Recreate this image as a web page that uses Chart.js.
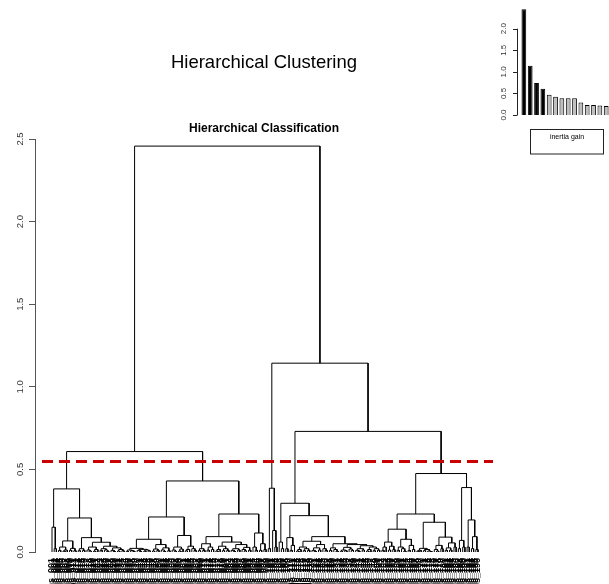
<!DOCTYPE html>
<html>
<head>
<meta charset="utf-8">
<title>Hierarchical Clustering</title>
<script src="https://cdn.jsdelivr.net/npm/chart.js@4.4.1/dist/chart.umd.min.js"></script>
<style>
  html, body { margin: 0; padding: 0; background: #fff; overflow: hidden; }
  #wrap { position: relative; width: 609px; height: 584px; overflow: hidden; }
  #tree { position: absolute; left: 0; top: 0; }
  #gain { position: absolute; left: 480px; top: 0; }
</style>
</head>
<body>
<div id="wrap">
  <canvas id="tree" width="609" height="584"></canvas>
  <canvas id="gain" width="140" height="160"></canvas>
</div>
<script>
// merge heights; a node is [height, left, right], a leaf is 0
var groupA = [0.382,
	[0.15, 0, [0.02, 0, 0]],
	[0.206,
		[0.067, [0.03, [0.01, 0, 0], [0.012, [0.005, 0, 0], 0]], [0.022, [0.01, 0, 0], [0.008, 0, 0]]],
		[0.087,
			[0.02, [0.008, 0, 0], [0.01, 0, 0]],
			[0.059,
				[0.03, [0.012, 0, [0.006, 0, 0]], [0.015, [0.005, 0, 0], 0]],
				[0.035, [0.02, [0.01, 0, 0], [0.012, 0, [0.004, 0, 0]]], [0.025, [0.01, 0, [0.003, 0, 0]], [0.015, [0.006, 0, 0], [0.008, 0, 0]]]]]]]];

var groupB = [0.43,
	[0.212,
		[0.077,
			[0.022, [0.012, [0.004, 0, 0], [0.008, 0, [0.003, 0, 0]]], [0.016, [0.01, 0, [0.004, 0, 0]], [0.012, [0.005, 0, 0], [0.007, 0, 0]]]],
			[0.045, [0.018, [0.006, 0, 0], [0.01, 0, 0]], [0.025, [0.012, 0, [0.004, 0, 0]], [0.008, 0, 0]]]],
		[0.1,
			[0.03, [0.012, 0, [0.005, 0, 0]], [0.018, [0.006, 0, 0], 0]],
			[0.035, [0.015, [0.007, 0, 0], 0], [0.02, 0, [0.009, 0, 0]]]]],
	[0.23,
		[0.093,
			[0.05, [0.02, [0.008, 0, 0], [0.01, 0, 0]], [0.03, [0.012, 0, 0], [0.015, 0, 0]]],
			[0.06, [0.035, [0.015, [0.006, 0, 0], 0], [0.02, [0.008, 0, 0], [0.01, 0, 0]]],
				[0.045, [0.02, [0.01, 0, [0.004, 0, 0]], [0.012, 0, 0]], [0.028, [0.015, 0, [0.007, 0, 0]], [0.011, 0, 0]]]]],
		[0.115, [0.03, 0, [0.01, 0, 0]], [0.05, [0.01, 0, 0], [0.015, 0, 0]]]]];

var groupC = [0.386, [0.02, 0, 0], [0.13, 0, [0.03, 0, 0]]];

var groupD1 = [0.295,
	[0.06, 0, [0.02, 0, 0]],
	[0.22,
		[0.087, [0.02, 0, 0], [0.04, [0.01, 0, 0], 0]],
		[0.093,
			[0.065, [0.03, [0.015, [0.006, 0, 0], 0], [0.02, [0.008, 0, 0], [0.01, 0, 0]]],
				[0.045, [0.025, [0.01, 0, [0.004, 0, 0]], [0.012, 0, 0]], [0.02, 0, [0.009, 0, 0]]]],
			[0.05,
				[0.025, [0.01, 0, 0], [0.015, 0, [0.005, 0, 0]]],
				[0.045, [0.028, [0.012, [0.005, 0, 0], [0.008, 0, 0]], [0.018, 0, [0.01, 0, 0]]],
					[0.038, [0.02, [0.01, 0, [0.004, 0, 0]], [0.012, 0, 0]], [0.03, [0.015, [0.006, 0, 0], 0], [0.02, [0.008, 0, 0], [0.011, 0, 0]]]]]]]]];

var groupD2 = [0.475,
	[0.23,
		[0.138,
			[0.06, [0.03, [0.01, 0, 0], 0], [0.035, [0.012, 0, 0], [0.015, 0, 0]]],
			[0.077, [0.03, [0.01, 0, 0], [0.02, 0, [0.005, 0, 0]]], [0.04, [0.01, 0, 0], [0.015, 0, 0]]]],
		[0.18,
			[0.022, [0.01, [0.005, 0, 0], 0], [0.015, [0.008, 0, 0], [0.006, 0, [0.003, 0, 0]]]],
			[0.09, [0.04, [0.015, 0, [0.006, 0, 0]], [0.02, 0, 0]], [0.055, [0.025, [0.01, 0, 0], [0.012, 0, 0]], [0.03, 0, 0]]]]],
	[0.39,
		[0.07, [0.02, 0, 0], [0.03, 0, 0]],
		[0.194, [0.03, 0, 0], [0.093, [0.02, 0, 0], [0.015, 0, 0]]]]];

// root, left branch, right branch, D1+D2
var topHeights = [2.457, 0.608, 1.143, 0.73];
var cutHeight = 0.548;

var yTicks = [0, 0.5, 1, 1.5, 2, 2.5];
var gainTicks = [0, 0.5, 1, 1.5, 2];
var inertiaGain = [2.45, 1.14, 0.74, 0.61, 0.47, 0.42, 0.39, 0.39, 0.39, 0.29, 0.23, 0.23, 0.22, 0.21, 0.21];
var gainRanks = ['1', '2', '3', '4', '5', '6', '7', '8', '9', '10', '11', '12', '13', '14', '15'];

var leafLabels = [];
for (let i = 1; i <= 196; i++) {
	leafLabels.push('obs_' + String(i).padStart(3, '0'));
}

var tree = [topHeights[0],
	[topHeights[1], groupA, groupB],
	[topHeights[2], groupC, [topHeights[3], groupD1, groupD2]]];

Chart.defaults.font.family = "'Liberation Sans', Arial, sans-serif";

// walk the tree: leaves take the next slot, a merge sits midway between its children
var leafCount = 0;
var links = [];
function place(node) {
	if (node === 0) {
		return { x: leafCount++, y: 0 };
	}
	var l = place(node[1]);
	var r = place(node[2]);
	var h = node[0];
	links.push({ x: l.x, y: l.y }, { x: l.x, y: h }, { x: r.x, y: h }, { x: r.x, y: r.y }, { x: r.x, y: null });
	return { x: (l.x + r.x) / 2, y: h };
}
place(tree);

// leaf 0 sits 17px right of the axis, last leaf 15px left of the plot edge
var pxPerLeaf = 426 / (leafCount - 1);
var xMin = -17 / pxPerLeaf;
var xMax = leafCount - 1 + 15 / pxPerLeaf;
var cutFrom = xMin + 7 / pxPerLeaf;

function rotatedLabels(scale, values, x, size, digits) {
	var ctx = scale.ctx;
	ctx.save();
	ctx.fillStyle = '#333';
	ctx.font = size + "px 'Liberation Sans', Arial, sans-serif";
	ctx.textAlign = 'center';
	ctx.textBaseline = 'middle';
	values.forEach(function (v) {
		var py = scale.getPixelForValue(v);
		ctx.save();
		ctx.translate(x, py);
		ctx.rotate(-Math.PI / 2);
		ctx.fillText(v.toFixed(digits), 0, 0);
		ctx.restore();
	});
	ctx.restore();
}

var treeAxis = {
	id: 'treeAxis',
	afterDraw: function (chart) {
		rotatedLabels(chart.scales.y, yTicks, 20, 9.5, 1);
	}
};

var ctx = document.getElementById('tree').getContext('2d');
var treeChart = new Chart(ctx, {
	type: 'line',
	data: {
		datasets: [{
			label: 'cut',
			data: [{ x: cutFrom, y: cutHeight }, { x: xMax, y: cutHeight }],
			borderColor: '#cc0000',
			borderWidth: 3,
			borderDash: [11, 6],
			pointRadius: 0
		}, {
			label: 'tree',
			data: links,
			borderColor: '#000',
			borderWidth: 1,
			pointRadius: 0,
			spanGaps: false
		}]
	},
	options: {
		responsive: false,
		animation: false,
		layout: {
			padding: { left: 29, right: 116, top: 0, bottom: 0 }
		},
		plugins: {
			legend: { display: false },
			tooltip: { enabled: false },
			title: {
				display: true,
				fullSize: false,
				text: 'Hierarchical Clustering',
				color: '#000',
				font: { size: 18.5, weight: 'normal' },
				padding: { top: 52, bottom: 0 }
			},
			subtitle: {
				display: true,
				fullSize: false,
				text: 'Hierarchical Classification',
				color: '#000',
				font: { size: 12, weight: 'bold' },
				padding: { top: 46.8, bottom: 3.6 }
			}
		},
		scales: {
			x: {
				type: 'linear',
				min: xMin,
				max: xMax,
				grid: { display: false },
				border: { display: false },
				afterBuildTicks: function (scale) {
					scale.ticks = leafLabels.map(function (_, i) { return { value: i }; });
				},
				afterFit: function (scale) {
					scale.height = 32;
				},
				ticks: {
					autoSkip: false,
					minRotation: 90,
					maxRotation: 90,
					padding: -2,
					color: '#000',
					font: { size: 9, weight: 'bold' },
					callback: function (value) {
						return leafLabels[value];
					}
				}
			},
			y: {
				min: 0,
				max: 2.5,
				grid: { drawOnChartArea: false, tickLength: 6, color: '#555' },
				border: { color: '#555' },
				ticks: { stepSize: 0.5, display: false },
				afterFit: function (scale) {
					scale.width = 6;
				}
			}
		}
	},
	plugins: [treeAxis]
});

// small barplot of the inertia gains, with its R style axis and legend box
var gainAxis = {
	id: 'gainAxis',
	afterDraw: function (chart) {
		var y = chart.scales.y;
		var c = chart.ctx;
		c.save();
		c.strokeStyle = '#222';
		c.lineWidth = 1;
		c.beginPath();
		c.moveTo(37.5, y.getPixelForValue(0));
		c.lineTo(37.5, y.getPixelForValue(2));
		gainTicks.forEach(function (v) {
			var py = Math.round(y.getPixelForValue(v)) + 0.5;
			c.moveTo(33, py);
			c.lineTo(37.5, py);
		});
		c.stroke();
		c.strokeRect(50.5, 129.5, 73, 24.5);
		c.fillStyle = '#000';
		c.font = "7px 'Liberation Sans', Arial, sans-serif";
		c.textAlign = 'center';
		c.textBaseline = 'middle';
		c.fillText('inertia gain', 87, 137.5);
		c.restore();
		rotatedLabels(y, gainTicks, 24, 8, 1);
	}
};

var ctx2 = document.getElementById('gain').getContext('2d');
var gainChart = new Chart(ctx2, {
	type: 'bar',
	data: {
		labels: gainRanks,
		datasets: [{
			data: inertiaGain,
			backgroundColor: inertiaGain.map(function (v) { return v > cutHeight ? '#000' : '#bebebe'; }),
			borderColor: '#000',
			borderWidth: 1,
			barPercentage: 0.75,
			categoryPercentage: 1
		}]
	},
	options: {
		responsive: false,
		animation: false,
		layout: {
			padding: { left: 40.7, right: 4.3, top: 7.1, bottom: 45 }
		},
		plugins: {
			legend: { display: false },
			tooltip: { enabled: false }
		},
		scales: {
			x: { display: false },
			y: { display: false, min: 0, max: 2.5 }
		}
	},
	plugins: [gainAxis]
});
</script>
</body>
</html>
